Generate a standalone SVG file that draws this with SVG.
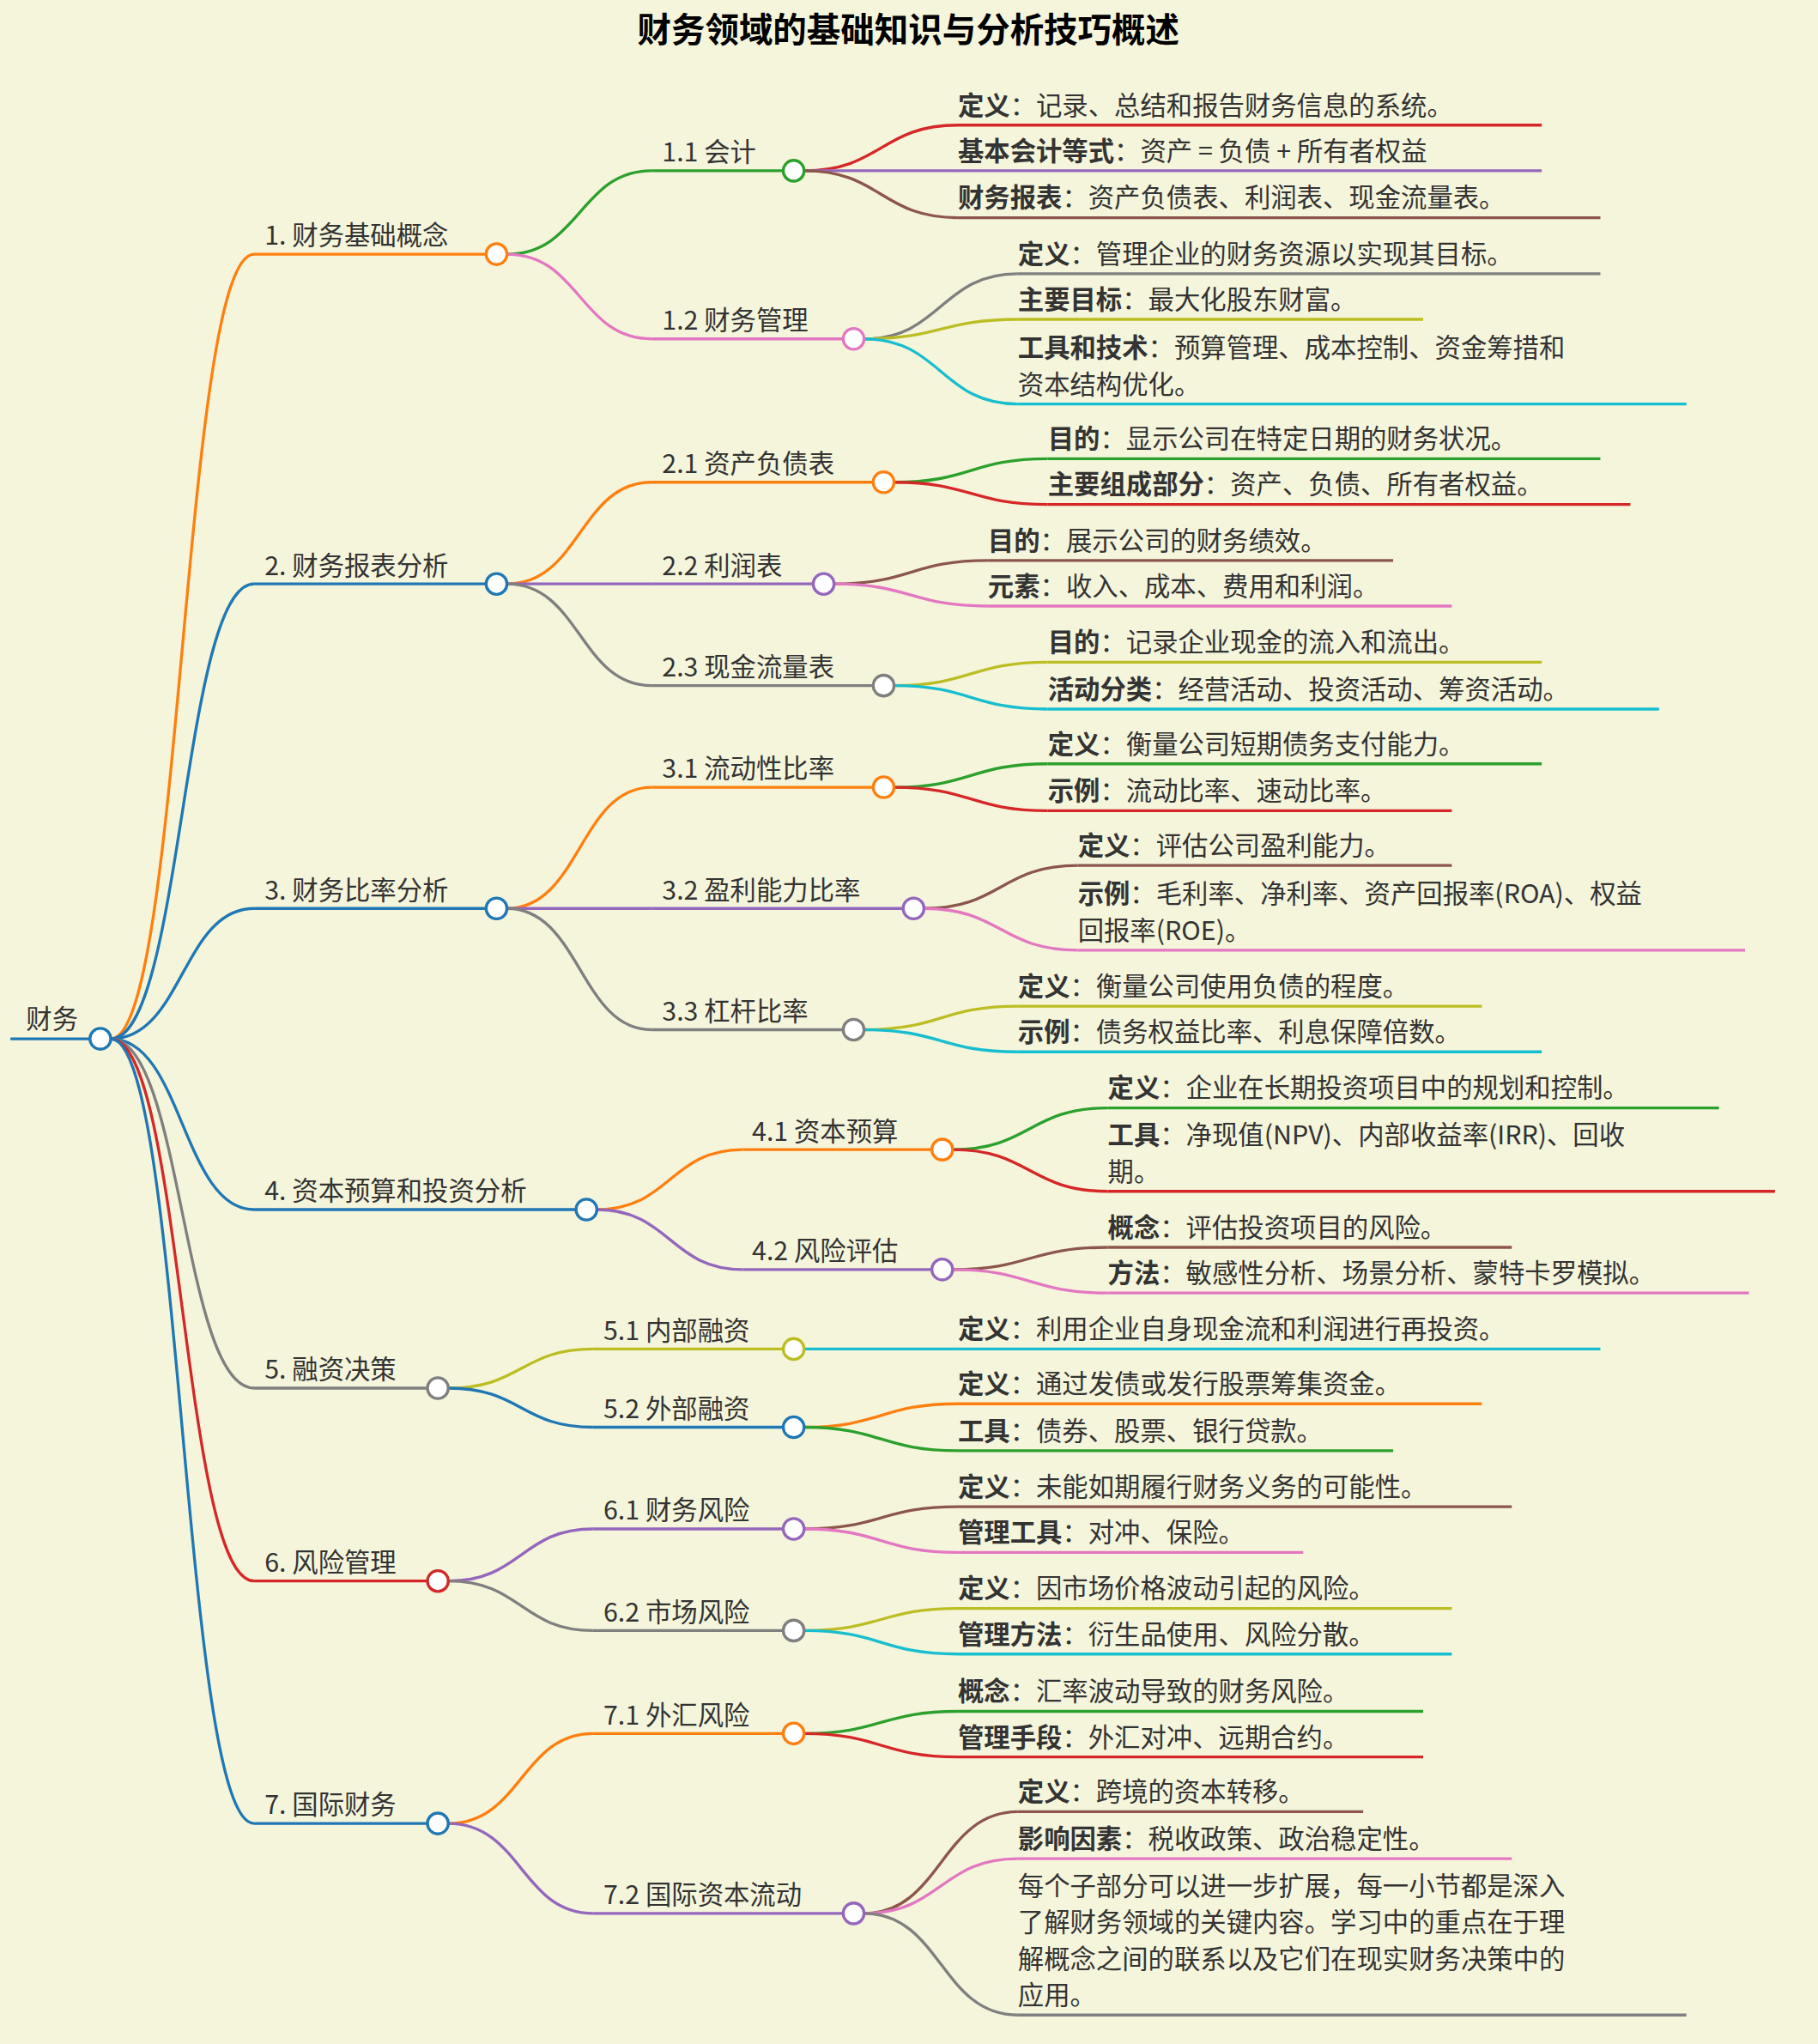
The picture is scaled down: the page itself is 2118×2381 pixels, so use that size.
<svg xmlns="http://www.w3.org/2000/svg" width="2118" height="2381" viewBox="0 0 2118 2381">
<style>
text{font-family:"Noto Sans CJK SC","DejaVu Sans",sans-serif;font-size:20px;fill:#333}
.t{font-size:26px;font-weight:bold;fill:#000}
b,.b{font-weight:bold}
path,line{fill:none;stroke-width:2.2}
circle{fill:#fff;stroke-width:2.2}
.c0{stroke:#1f77b4}.c1{stroke:#ff7f0e}.c2{stroke:#2ca02c}.c3{stroke:#d62728}.c4{stroke:#9467bd}
.c5{stroke:#8c564b}.c6{stroke:#e377c2}.c7{stroke:#7f7f7f}.c8{stroke:#bcbd22}.c9{stroke:#17becf}
</style>
<rect width="2118" height="2381" fill="#f5f5dc"/>
<g transform="scale(1.5183)">
<text class="t" x="697" y="32" text-anchor="middle">财务领域的基础知识与分析技巧概述</text>
<g id="connectors">
<path class="c1" d="M85 797 C140 797 140 195 195 195"/>
<path class="c0" d="M85 797 C140 797 140 448 195 448"/>
<path class="c0" d="M85 797 C140 797 140 697 195 697"/>
<path class="c0" d="M85 797 C140 797 140 928 195 928"/>
<path class="c7" d="M85 797 C140 797 140 1065 195 1065"/>
<path class="c3" d="M85 797 C140 797 140 1213 195 1213"/>
<path class="c0" d="M85 797 C140 797 140 1399 195 1399"/>
<path class="c2" d="M389 195 C445 195 445 131 500 131"/>
<path class="c6" d="M389 195 C445 195 445 260 500 260"/>
<path class="c1" d="M389 448 C445 448 445 370 500 370"/>
<path class="c4" d="M389 448 C445 448 445 448 500 448"/>
<path class="c7" d="M389 448 C445 448 445 526 500 526"/>
<path class="c1" d="M389 697 C445 697 445 604 500 604"/>
<path class="c4" d="M389 697 C445 697 445 697 500 697"/>
<path class="c7" d="M389 697 C445 697 445 790 500 790"/>
<path class="c1" d="M458 928 C514 928 514 882 570 882"/>
<path class="c4" d="M458 928 C514 928 514 974 570 974"/>
<path class="c8" d="M344 1065 C400 1065 400 1035 455 1035"/>
<path class="c0" d="M344 1065 C400 1065 400 1095 455 1095"/>
<path class="c4" d="M344 1213 C400 1213 400 1173 455 1173"/>
<path class="c7" d="M344 1213 C400 1213 400 1251 455 1251"/>
<path class="c1" d="M344 1399 C400 1399 400 1330 455 1330"/>
<path class="c4" d="M344 1399 C400 1399 400 1468 455 1468"/>
<path class="c3" d="M617 131 C676 131 676 96 735 96"/>
<path class="c4" d="M617 131 C676 131 676 131 735 131"/>
<path class="c5" d="M617 131 C676 131 676 167 735 167"/>
<path class="c7" d="M663 260 C722 260 722 210 781 210"/>
<path class="c8" d="M663 260 C722 260 722 245 781 245"/>
<path class="c9" d="M663 260 C722 260 722 310 781 310"/>
<path class="c2" d="M686 370 C745 370 745 352 804 352"/>
<path class="c3" d="M686 370 C745 370 745 387 804 387"/>
<path class="c5" d="M640 448 C699 448 699 430 758 430"/>
<path class="c6" d="M640 448 C699 448 699 465 758 465"/>
<path class="c8" d="M686 526 C745 526 745 508 804 508"/>
<path class="c9" d="M686 526 C745 526 745 544 804 544"/>
<path class="c2" d="M686 604 C745 604 745 586 804 586"/>
<path class="c3" d="M686 604 C745 604 745 622 804 622"/>
<path class="c5" d="M709 697 C768 697 768 664 827 664"/>
<path class="c6" d="M709 697 C768 697 768 729 827 729"/>
<path class="c8" d="M663 790 C722 790 722 772 781 772"/>
<path class="c9" d="M663 790 C722 790 722 807 781 807"/>
<path class="c2" d="M731 882 C790 882 790 850 850 850"/>
<path class="c3" d="M731 882 C790 882 790 914 850 914"/>
<path class="c5" d="M731 974 C790 974 790 957 850 957"/>
<path class="c6" d="M731 974 C790 974 790 992 850 992"/>
<path class="c9" d="M617 1035 C676 1035 676 1035 735 1035"/>
<path class="c1" d="M617 1095 C676 1095 676 1077 735 1077"/>
<path class="c2" d="M617 1095 C676 1095 676 1113 735 1113"/>
<path class="c5" d="M617 1173 C676 1173 676 1156 735 1156"/>
<path class="c6" d="M617 1173 C676 1173 676 1191 735 1191"/>
<path class="c8" d="M617 1251 C676 1251 676 1234 735 1234"/>
<path class="c9" d="M617 1251 C676 1251 676 1269 735 1269"/>
<path class="c2" d="M617 1330 C676 1330 676 1313 735 1313"/>
<path class="c3" d="M617 1330 C676 1330 676 1348 735 1348"/>
<path class="c5" d="M663 1468 C722 1468 722 1390 781 1390"/>
<path class="c6" d="M663 1468 C722 1468 722 1426 781 1426"/>
<path class="c7" d="M663 1468 C722 1468 722 1546 781 1546"/>
</g>
<g id="root"><line class="c0" x1="8" y1="797" x2="77" y2="797"/><circle class="c0" cx="77" cy="797" r="8"/><text x="20" y="789">财务</text></g>
<g id="n1"><line class="c1" x1="195" y1="195" x2="381" y2="195"/><circle class="c1" cx="381" cy="195" r="8"/><text x="203" y="188">1. 财务基础概念</text></g>
<g id="n2"><line class="c0" x1="195" y1="448" x2="381" y2="448"/><circle class="c0" cx="381" cy="448" r="8"/><text x="203" y="441">2. 财务报表分析</text></g>
<g id="n3"><line class="c0" x1="195" y1="697" x2="381" y2="697"/><circle class="c0" cx="381" cy="697" r="8"/><text x="203" y="690">3. 财务比率分析</text></g>
<g id="n4"><line class="c0" x1="195" y1="928" x2="450" y2="928"/><circle class="c0" cx="450" cy="928" r="8"/><text x="203" y="921">4. 资本预算和投资分析</text></g>
<g id="n5"><line class="c7" x1="195" y1="1065" x2="336" y2="1065"/><circle class="c7" cx="336" cy="1065" r="8"/><text x="203" y="1058">5. 融资决策</text></g>
<g id="n6"><line class="c3" x1="195" y1="1213" x2="336" y2="1213"/><circle class="c3" cx="336" cy="1213" r="8"/><text x="203" y="1206">6. 风险管理</text></g>
<g id="n7"><line class="c0" x1="195" y1="1399" x2="336" y2="1399"/><circle class="c0" cx="336" cy="1399" r="8"/><text x="203" y="1392">7. 国际财务</text></g>
<g id="n11"><line class="c2" x1="500" y1="131" x2="609" y2="131"/><circle class="c2" cx="609" cy="131" r="8"/><text x="508" y="124">1.1 会计</text></g>
<g id="n12"><line class="c6" x1="500" y1="260" x2="655" y2="260"/><circle class="c6" cx="655" cy="260" r="8"/><text x="508" y="253">1.2 财务管理</text></g>
<g id="n21"><line class="c1" x1="500" y1="370" x2="678" y2="370"/><circle class="c1" cx="678" cy="370" r="8"/><text x="508" y="363">2.1 资产负债表</text></g>
<g id="n22"><line class="c4" x1="500" y1="448" x2="632" y2="448"/><circle class="c4" cx="632" cy="448" r="8"/><text x="508" y="441">2.2 利润表</text></g>
<g id="n23"><line class="c7" x1="500" y1="526" x2="678" y2="526"/><circle class="c7" cx="678" cy="526" r="8"/><text x="508" y="519">2.3 现金流量表</text></g>
<g id="n31"><line class="c1" x1="500" y1="604" x2="678" y2="604"/><circle class="c1" cx="678" cy="604" r="8"/><text x="508" y="597">3.1 流动性比率</text></g>
<g id="n32"><line class="c4" x1="500" y1="697" x2="701" y2="697"/><circle class="c4" cx="701" cy="697" r="8"/><text x="508" y="690">3.2 盈利能力比率</text></g>
<g id="n33"><line class="c7" x1="500" y1="790" x2="655" y2="790"/><circle class="c7" cx="655" cy="790" r="8"/><text x="508" y="783">3.3 杠杆比率</text></g>
<g id="n41"><line class="c1" x1="570" y1="882" x2="723" y2="882"/><circle class="c1" cx="723" cy="882" r="8"/><text x="577" y="875">4.1 资本预算</text></g>
<g id="n42"><line class="c4" x1="570" y1="974" x2="723" y2="974"/><circle class="c4" cx="723" cy="974" r="8"/><text x="577" y="967">4.2 风险评估</text></g>
<g id="n51"><line class="c8" x1="455" y1="1035" x2="609" y2="1035"/><circle class="c8" cx="609" cy="1035" r="8"/><text x="463" y="1028">5.1 内部融资</text></g>
<g id="n52"><line class="c0" x1="455" y1="1095" x2="609" y2="1095"/><circle class="c0" cx="609" cy="1095" r="8"/><text x="463" y="1088">5.2 外部融资</text></g>
<g id="n61"><line class="c4" x1="455" y1="1173" x2="609" y2="1173"/><circle class="c4" cx="609" cy="1173" r="8"/><text x="463" y="1166">6.1 财务风险</text></g>
<g id="n62"><line class="c7" x1="455" y1="1251" x2="609" y2="1251"/><circle class="c7" cx="609" cy="1251" r="8"/><text x="463" y="1244">6.2 市场风险</text></g>
<g id="n71"><line class="c1" x1="455" y1="1330" x2="609" y2="1330"/><circle class="c1" cx="609" cy="1330" r="8"/><text x="463" y="1323">7.1 外汇风险</text></g>
<g id="n72"><line class="c4" x1="455" y1="1468" x2="655" y2="1468"/><circle class="c4" cx="655" cy="1468" r="8"/><text x="463" y="1461">7.2 国际资本流动</text></g>
<g id="l111"><line class="c3" x1="735" y1="96" x2="1183" y2="96"/><text x="735" y="88"><tspan class="b">定义</tspan>：记录、总结和报告财务信息的系统。</text></g>
<g id="l112"><line class="c4" x1="735" y1="131" x2="1183" y2="131"/><text x="735" y="123"><tspan class="b">基本会计等式</tspan>：资产 = 负债 + 所有者权益</text></g>
<g id="l113"><line class="c5" x1="735" y1="167" x2="1228" y2="167"/><text x="735" y="159"><tspan class="b">财务报表</tspan>：资产负债表、利润表、现金流量表。</text></g>
<g id="l121"><line class="c7" x1="781" y1="210" x2="1228" y2="210"/><text x="781" y="202"><tspan class="b">定义</tspan>：管理企业的财务资源以实现其目标。</text></g>
<g id="l122"><line class="c8" x1="781" y1="245" x2="1092" y2="245"/><text x="781" y="237"><tspan class="b">主要目标</tspan>：最大化股东财富。</text></g>
<g id="l123"><line class="c9" x1="781" y1="310" x2="1294" y2="310"/><text x="781" y="274"><tspan class="b">工具和技术</tspan>：预算管理、成本控制、资金筹措和</text><text x="781" y="302">资本结构优化。</text></g>
<g id="l211"><line class="c2" x1="804" y1="352" x2="1228" y2="352"/><text x="804" y="344"><tspan class="b">目的</tspan>：显示公司在特定日期的财务状况。</text></g>
<g id="l212"><line class="c3" x1="804" y1="387" x2="1251" y2="387"/><text x="804" y="379"><tspan class="b">主要组成部分</tspan>：资产、负债、所有者权益。</text></g>
<g id="l221"><line class="c5" x1="758" y1="430" x2="1069" y2="430"/><text x="758" y="422"><tspan class="b">目的</tspan>：展示公司的财务绩效。</text></g>
<g id="l222"><line class="c6" x1="758" y1="465" x2="1114" y2="465"/><text x="758" y="457"><tspan class="b">元素</tspan>：收入、成本、费用和利润。</text></g>
<g id="l231"><line class="c8" x1="804" y1="508" x2="1183" y2="508"/><text x="804" y="500"><tspan class="b">目的</tspan>：记录企业现金的流入和流出。</text></g>
<g id="l232"><line class="c9" x1="804" y1="544" x2="1273" y2="544"/><text x="804" y="536"><tspan class="b">活动分类</tspan>：经营活动、投资活动、筹资活动。</text></g>
<g id="l311"><line class="c2" x1="804" y1="586" x2="1183" y2="586"/><text x="804" y="578"><tspan class="b">定义</tspan>：衡量公司短期债务支付能力。</text></g>
<g id="l312"><line class="c3" x1="804" y1="622" x2="1114" y2="622"/><text x="804" y="614"><tspan class="b">示例</tspan>：流动比率、速动比率。</text></g>
<g id="l321"><line class="c5" x1="827" y1="664" x2="1114" y2="664"/><text x="827" y="656"><tspan class="b">定义</tspan>：评估公司盈利能力。</text></g>
<g id="l322"><line class="c6" x1="827" y1="729" x2="1339" y2="729"/><text x="827" y="693"><tspan class="b">示例</tspan>：毛利率、净利率、资产回报率(ROA)、权益</text><text x="827" y="721">回报率(ROE)。</text></g>
<g id="l331"><line class="c8" x1="781" y1="772" x2="1137" y2="772"/><text x="781" y="764"><tspan class="b">定义</tspan>：衡量公司使用负债的程度。</text></g>
<g id="l332"><line class="c9" x1="781" y1="807" x2="1183" y2="807"/><text x="781" y="799"><tspan class="b">示例</tspan>：债务权益比率、利息保障倍数。</text></g>
<g id="l411"><line class="c2" x1="850" y1="850" x2="1319" y2="850"/><text x="850" y="842"><tspan class="b">定义</tspan>：企业在长期投资项目中的规划和控制。</text></g>
<g id="l412"><line class="c3" x1="850" y1="914" x2="1362" y2="914"/><text x="850" y="878"><tspan class="b">工具</tspan>：净现值(NPV)、内部收益率(IRR)、回收</text><text x="850" y="906">期。</text></g>
<g id="l421"><line class="c5" x1="850" y1="957" x2="1160" y2="957"/><text x="850" y="949"><tspan class="b">概念</tspan>：评估投资项目的风险。</text></g>
<g id="l422"><line class="c6" x1="850" y1="992" x2="1342" y2="992"/><text x="850" y="984"><tspan class="b">方法</tspan>：敏感性分析、场景分析、蒙特卡罗模拟。</text></g>
<g id="l511"><line class="c9" x1="735" y1="1035" x2="1228" y2="1035"/><text x="735" y="1027"><tspan class="b">定义</tspan>：利用企业自身现金流和利润进行再投资。</text></g>
<g id="l521"><line class="c1" x1="735" y1="1077" x2="1137" y2="1077"/><text x="735" y="1069"><tspan class="b">定义</tspan>：通过发债或发行股票筹集资金。</text></g>
<g id="l522"><line class="c2" x1="735" y1="1113" x2="1069" y2="1113"/><text x="735" y="1105"><tspan class="b">工具</tspan>：债券、股票、银行贷款。</text></g>
<g id="l611"><line class="c5" x1="735" y1="1156" x2="1160" y2="1156"/><text x="735" y="1148"><tspan class="b">定义</tspan>：未能如期履行财务义务的可能性。</text></g>
<g id="l612"><line class="c6" x1="735" y1="1191" x2="1000" y2="1191"/><text x="735" y="1183"><tspan class="b">管理工具</tspan>：对冲、保险。</text></g>
<g id="l621"><line class="c8" x1="735" y1="1234" x2="1114" y2="1234"/><text x="735" y="1226"><tspan class="b">定义</tspan>：因市场价格波动引起的风险。</text></g>
<g id="l622"><line class="c9" x1="735" y1="1269" x2="1114" y2="1269"/><text x="735" y="1261"><tspan class="b">管理方法</tspan>：衍生品使用、风险分散。</text></g>
<g id="l711"><line class="c2" x1="735" y1="1313" x2="1092" y2="1313"/><text x="735" y="1305"><tspan class="b">概念</tspan>：汇率波动导致的财务风险。</text></g>
<g id="l712"><line class="c3" x1="735" y1="1348" x2="1092" y2="1348"/><text x="735" y="1340"><tspan class="b">管理手段</tspan>：外汇对冲、远期合约。</text></g>
<g id="l721"><line class="c5" x1="781" y1="1390" x2="1046" y2="1390"/><text x="781" y="1382"><tspan class="b">定义</tspan>：跨境的资本转移。</text></g>
<g id="l722"><line class="c6" x1="781" y1="1426" x2="1160" y2="1426"/><text x="781" y="1418"><tspan class="b">影响因素</tspan>：税收政策、政治稳定性。</text></g>
<g id="l723"><line class="c7" x1="781" y1="1546" x2="1294" y2="1546"/><text x="781" y="1454">每个子部分可以进一步扩展，每一小节都是深入</text><text x="781" y="1482">了解财务领域的关键内容。学习中的重点在于理</text><text x="781" y="1510">解概念之间的联系以及它们在现实财务决策中的</text><text x="781" y="1538">应用。</text></g>
</g>
</svg>
